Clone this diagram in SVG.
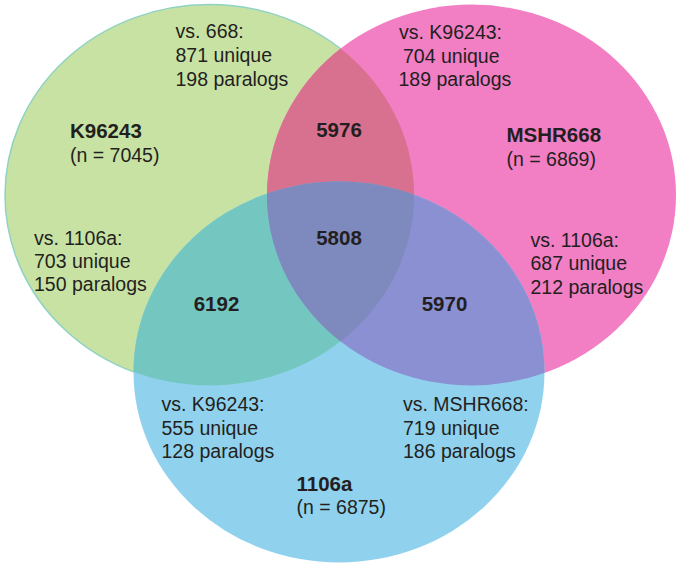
<svg xmlns="http://www.w3.org/2000/svg" xmlns:xlink="http://www.w3.org/1999/xlink" width="683" height="568" viewBox="0 0 683 568">
<style>
text{font-family:"Liberation Sans",Arial,sans-serif;fill:#231f20;font-size:19.5px}
.b{font-weight:bold;font-size:20.5px}
</style>
<defs>
<ellipse id="G" cx="209.5" cy="195" rx="204.5" ry="190.5"/>
<ellipse id="P" cx="471.5" cy="195" rx="204.5" ry="190.5"/>
<ellipse id="B" cx="339" cy="372" rx="205.5" ry="190.5"/>
<clipPath id="cG"><use xlink:href="#G"/></clipPath>
<clipPath id="cP"><use xlink:href="#P"/></clipPath>
<clipPath id="cB"><use xlink:href="#B"/></clipPath>
</defs>
<rect width="683" height="568" fill="#ffffff"/>
<g id="set-K96243">
<use xlink:href="#G" fill="#c8e2a4" stroke="#90d2c4" stroke-width="1.5"/>
</g>
<g id="set-MSHR668">
<use xlink:href="#P" fill="#f27ec4"/>
</g>
<g id="set-1106a">
<use xlink:href="#B" fill="#90d2ee"/>
</g>
<g id="overlaps">
<use xlink:href="#G" fill="#d8708f" clip-path="url(#cP)"/>
<use xlink:href="#G" fill="#74c7c0" clip-path="url(#cB)"/>
<use xlink:href="#P" fill="#8a90d2" clip-path="url(#cB)"/>
<g clip-path="url(#cP)"><use xlink:href="#G" fill="#7e89bd" clip-path="url(#cB)"/></g>
</g>
<g id="connectors"/>
<g id="label-K96243">
<text x="175.5" y="37.5">vs. 668:</text>
<text x="175.5" y="62">871 unique</text>
<text x="175.5" y="86">198 paralogs</text>
<text class="b" x="70" y="137.5">K96243</text>
<text x="70" y="161.5">(n = 7045)</text>
<text x="34" y="244.5">vs. 1106a:</text>
<text x="34" y="267.5">703 unique</text>
<text x="34" y="291">150 paralogs</text>
</g>
<g id="label-MSHR668">
<text x="399" y="39">vs. K96243:</text>
<text x="403" y="63">704 unique</text>
<text x="398.5" y="86">189 paralogs</text>
<text class="b" x="506.5" y="142">MSHR668</text>
<text x="506.5" y="165.5">(n = 6869)</text>
<text x="530.5" y="246.5">vs. 1106a:</text>
<text x="530.5" y="270">687 unique</text>
<text x="530.5" y="293.5">212 paralogs</text>
</g>
<g id="label-1106a">
<text x="161.5" y="411">vs. K96243:</text>
<text x="161.5" y="434.5">555 unique</text>
<text x="161.5" y="458">128 paralogs</text>
<text x="403" y="411">vs. MSHR668:</text>
<text x="403" y="434.5">719 unique</text>
<text x="403" y="458">186 paralogs</text>
<text class="b" x="296.5" y="491">1106a</text>
<text x="296.5" y="514">(n = 6875)</text>
</g>
<g id="counts" text-anchor="middle">
<text class="b" x="339" y="137">5976</text>
<text class="b" x="339" y="245">5808</text>
<text class="b" x="216.5" y="311">6192</text>
<text class="b" x="444.5" y="310.5">5970</text>
</g>
</svg>
